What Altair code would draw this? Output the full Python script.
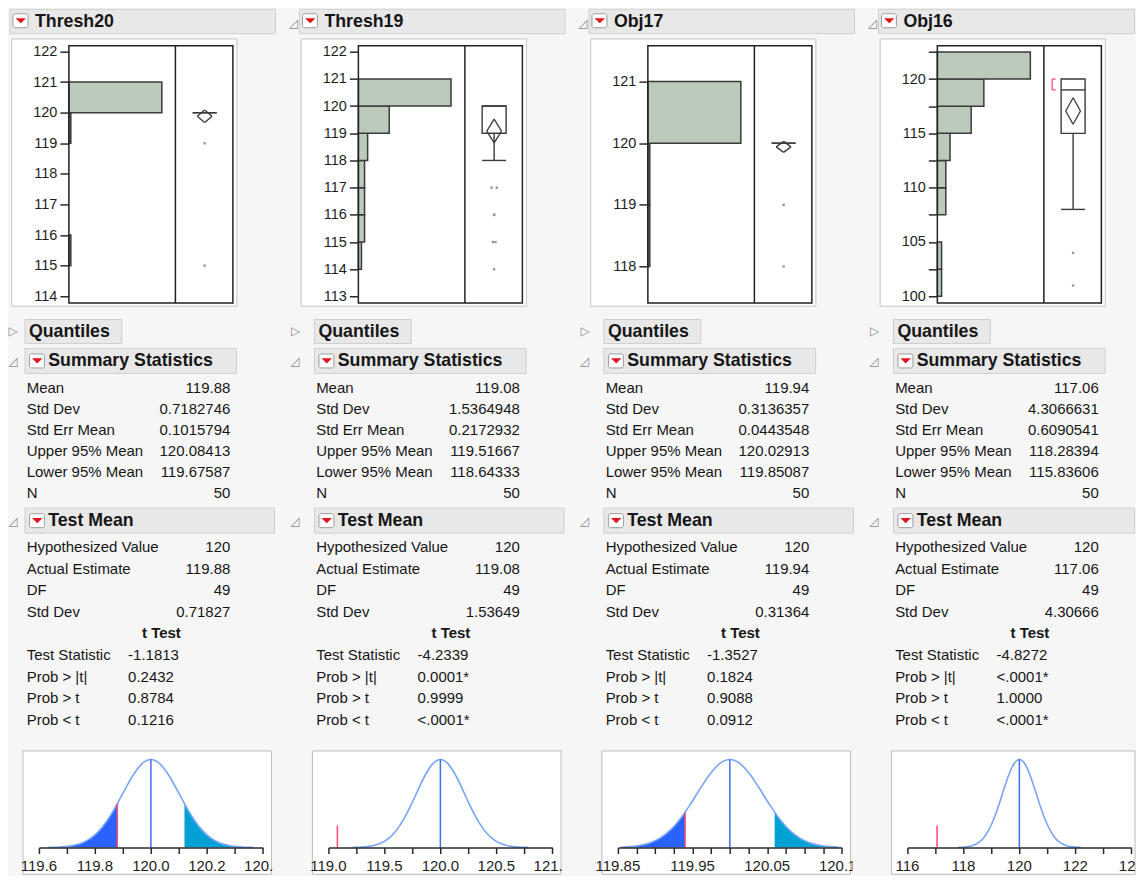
import json
import altair as alt
import pandas as pd

FONT = "Liberation Sans"
BG = "#f6f6f6"
TXT = "#161616"

names = ["Thresh20", "Thresh19", "Obj17", "Obj16"]

# ---------- histogram data (bin lower edge, upper edge, count) ----------
hist_lo = [[115, 119, 120],
           [114, 115, 116, 117, 118, 119, 120],
           [118, 119, 120],
           [100, 102.5, 105, 107.5, 110, 112.5, 115, 117.5, 120]]
hist_hi = [[116, 120, 121],
           [115, 116, 117, 118, 119, 120, 121],
           [119, 120, 121],
           [102.5, 105, 107.5, 110, 112.5, 115, 117.5, 120, 122.5]]
hist_count = [[1, 1, 48],
              [1, 2, 2, 2, 3, 10, 30],
              [1, 1, 48],
              [1, 1, 0, 2, 2, 3, 8, 11, 22]]
hist_xmax = [55, 34.5, 55, 25.2]
hist_ydom = [[113.78, 122.19], [112.76, 122.22], [117.41, 121.58], [99.39, 123.07]]
hist_ticks = [[114, 115, 116, 117, 118, 119, 120, 121, 122],
              [113, 114, 115, 116, 117, 118, 119, 120, 121, 122],
              [118, 119, 120, 121],
              [100, 102.5, 105, 107.5, 110, 112.5, 115, 117.5, 120, 122.5]]
hist_labels = [["114", "115", "116", "117", "118", "119", "120", "121", "122"],
               ["113", "114", "115", "116", "117", "118", "119", "120", "121", "122"],
               ["118", "119", "120", "121"],
               ["100", "", "105", "", "110", "", "115", "", "120", ""]]

# ---------- box plot data ----------
q1 = [120, 119, 120, 115]
med = [120, 120, 120, 119]
q3 = [120, 120, 120, 120]
wlo = [120, 118, 120, 108]
whi = [120, 120, 120, 120]
outliers = [[119, 115], [117, 117, 116, 116, 115, 115, 114], [119, 118], [104, 101]]
short_half = [None, None, None, [119, 120]]

# ---------- summary statistics ----------
sum_labels = ["Mean", "Std Dev", "Std Err Mean", "Upper 95% Mean", "Lower 95% Mean", "N"]
sum_values = [["119.88", "0.7182746", "0.1015794", "120.08413", "119.67587", "50"],
              ["119.08", "1.5364948", "0.2172932", "119.51667", "118.64333", "50"],
              ["119.94", "0.3136357", "0.0443548", "120.02913", "119.85087", "50"],
              ["117.06", "4.3066631", "0.6090541", "118.28394", "115.83606", "50"]]
means = [119.88, 119.08, 119.94, 117.06]
std_err = [0.1015794, 0.2172932, 0.0443548, 0.6090541]
upper95 = [120.08413, 119.51667, 120.02913, 118.28394]
lower95 = [119.67587, 118.64333, 119.85087, 115.83606]

# ---------- test mean ----------
tm_labels = ["Hypothesized Value", "Actual Estimate", "DF", "Std Dev"]
tm_values = [["120", "119.88", "49", "0.71827"],
             ["120", "119.08", "49", "1.53649"],
             ["120", "119.94", "49", "0.31364"],
             ["120", "117.06", "49", "4.30666"]]
tt_labels = ["Test Statistic", "Prob > |t|", "Prob > t", "Prob < t"]
tt_values = [["-1.1813", "0.2432", "0.8784", "0.1216"],
             ["-4.2339", "0.0001*", "0.9999", "<.0001*"],
             ["-1.3527", "0.1824", "0.9088", "0.0912"],
             ["-4.8272", "<.0001*", "1.0000", "<.0001*"]]
hyp_value = 120
t_stat = [-1.1813, -4.2339, -1.3527, -4.8272]

# ---------- t distribution plots ----------
curve_z = [-3.6, -3.3, -3.0, -2.7, -2.4, -2.1, -1.8, -1.5, -1.2, -0.9, -0.6, -0.3, 0.0,
           0.3, 0.6, 0.9, 1.2, 1.5, 1.8, 2.1, 2.4, 2.7, 3.0, 3.3, 3.6]
curve_h = [0.002, 0.004, 0.011, 0.026, 0.056, 0.110, 0.198, 0.325, 0.487, 0.667, 0.835, 0.956, 1.0,
           0.956, 0.835, 0.667, 0.487, 0.325, 0.198, 0.110, 0.056, 0.026, 0.011, 0.004, 0.002]
curve_peak = 1.0
red_h = [0.50, 0.25, 0.40, 0.25]
t_dom = [[119.6, 120.4], [119.0, 121.0], [119.85, 120.15], [116, 124]]
t_ticks = [[119.6, 119.7, 119.8, 119.9, 120.0, 120.1, 120.2, 120.3, 120.4],
           [119.0, 119.25, 119.5, 119.75, 120.0, 120.25, 120.5, 120.75, 121.0],
           [119.85, 119.875, 119.9, 119.925, 119.95, 119.975, 120.0, 120.025, 120.05,
            120.075, 120.1, 120.125, 120.15],
           [116, 117, 118, 119, 120, 121, 122, 123, 124]]
t_label_vals = [[119.6, 119.8, 120.0, 120.2, 120.4],
                [119.0, 119.5, 120.0, 120.5, 121.0],
                [119.85, 119.95, 120.05, 120.15],
                [116, 118, 120, 122, 124]]
t_labels = [["119.6", "119.8", "120.0", "120.2", "120.4"],
            ["119.0", "119.5", "120.0", "120.5", "121.0"],
            ["119.85", "119.95", "120.05", "120.15"],
            ["116", "118", "120", "122", "124"]]

# ---------- layout / style (pixels) ----------
COL_W = [289.33, 289.33, 289.33, 260.0]
ONE = pd.DataFrame({"k": [0]})
BOX_C = 197.0
BOX_HW = 12.0
DIA_HW = 7.4
# horizontal jitter (px) of each drawn outlier point, same order as `outliers`
OUTLIER_JITTER = [[0, 0], [-2.6, 2.6, 0, 0, -1.3, 1.3, 0], [0, 0], [0, 0]]


def lab_expr(vals, labels):
    v = json.dumps(vals)
    l = json.dumps(labels)
    key = "round(datum.value*1000)/1000"
    return f"indexof({v}, {key}) >= 0 ? {l}[indexof({v}, {key})] : ''"


def box_rect(x1, x2, y1, y2, fill="#e8e8e8", stroke="#cfcfcf", sw=1, radius=0):
    return alt.Chart(ONE).mark_rect(fill=fill, stroke=stroke, strokeWidth=sw, cornerRadius=radius).encode(
        x=alt.value(x1), x2=alt.value(x2), y=alt.value(y1), y2=alt.value(y2))


def label(text, x, y, size=17.8, bold=True, align="left", color=TXT):
    return alt.Chart(ONE).mark_text(text=text, align=align, baseline="middle", font=FONT,
                                    fontSize=size, fontWeight="bold" if bold else "normal",
                                    color=color).encode(x=alt.value(x), y=alt.value(y))


def red_icon(cx, cy):
    return [
        box_rect(cx - 7.5, cx + 7.5, cy - 7, cy + 7, fill="#ffffff", stroke="#9c9c9c", sw=1, radius=2),
        alt.Chart(ONE).mark_point(shape="M-1,-0.5L1,-0.5L0,0.5Z", filled=True, fill="#e3141e",
                                  opacity=1, strokeWidth=0, size=110).encode(
            x=alt.value(cx + 0.3), y=alt.value(cy)),
    ]


def glyph(ch, x, y):
    return alt.Chart(ONE).mark_text(text=ch, align="left", baseline="middle", font="DejaVu Sans",
                                    fontSize=12, color="#8c8c8c").encode(x=alt.value(x), y=alt.value(y))


def header_piece(c, W):
    right = min(268, W - 1.5)
    layers = [box_rect(2, right, 0.5, 25)]
    layers += red_icon(12.5, 12)
    layers.append(label(names[c], 27, 13))
    if c > 0:
        layers.append(glyph("◿", -8.5, 14))
    return alt.layer(*layers).properties(width=W, height=37)


def hist_piece(c, W):
    H = 257.7
    ysc = alt.Scale(domain=hist_ydom[c], nice=False, zero=False)
    yax = alt.Axis(values=hist_ticks[c], labelExpr=lab_expr(hist_ticks[c], hist_labels[c]),
                   title=None, domain=False, grid=False, tickSize=9, tickWidth=1.5,
                   tickColor="#2a2a2a", labelFont=FONT, labelFontSize=14.5, labelColor="#1e1e1e",
                   labelPadding=3, labelOverlap=False, labelFlush=False, offset=-61, zindex=1)

    def Y(f):
        return alt.Y(f"{f}:Q", scale=ysc, axis=yax)

    LINE = "#3a3a3a"
    layers = [box_rect(3.7, 229.3, -6.7, 261, fill="#ffffff", stroke="#c4c4c4", sw=1)]

    hdf = pd.DataFrame({"lo": hist_lo[c], "hi": hist_hi[c], "n": hist_count[c]})
    hdf = hdf[hdf.n > 0]
    layers.append(alt.Chart(hdf).mark_rect(fill="#bccabc", stroke=LINE, strokeWidth=1.5).encode(
        x=alt.X("n:Q", scale=alt.Scale(domain=[0, hist_xmax[c]], range=[61, 167.7], nice=False),
                axis=None),
        x2=alt.value(61), y=Y("lo"), y2="hi:Q"))

    bdf = pd.DataFrame({"q1": [q1[c]], "med": [med[c]], "q3": [q3[c]], "wlo": [wlo[c]],
                        "whi": [whi[c]], "mean": [means[c]], "lo95": [lower95[c]],
                        "hi95": [upper95[c]]})
    bb = alt.Chart(bdf)
    L, R = BOX_C - BOX_HW, BOX_C + BOX_HW
    layers.append(bb.mark_rect(fill="#ffffff", stroke=LINE, strokeWidth=1.4).encode(
        x=alt.value(L), x2=alt.value(R), y=Y("q1"), y2="q3:Q"))
    layers.append(bb.mark_rule(color=LINE, strokeWidth=1.4).encode(
        x=alt.value(L), x2=alt.value(R), y=Y("med")))
    if wlo[c] < q1[c]:
        layers.append(bb.mark_rule(color=LINE, strokeWidth=1.4).encode(
            x=alt.value(BOX_C), y=Y("wlo"), y2="q1:Q"))
        layers.append(bb.mark_rule(color=LINE, strokeWidth=1.4).encode(
            x=alt.value(L), x2=alt.value(R), y=Y("wlo")))
    if whi[c] > q3[c]:
        layers.append(bb.mark_rule(color=LINE, strokeWidth=1.4).encode(
            x=alt.value(BOX_C), y=Y("q3"), y2="whi:Q"))
        layers.append(bb.mark_rule(color=LINE, strokeWidth=1.4).encode(
            x=alt.value(L), x2=alt.value(R), y=Y("whi")))
    for (xa, fa, xb, fb) in [(BOX_C - DIA_HW, "mean", BOX_C, "hi95"),
                             (BOX_C, "hi95", BOX_C + DIA_HW, "mean"),
                             (BOX_C + DIA_HW, "mean", BOX_C, "lo95"),
                             (BOX_C, "lo95", BOX_C - DIA_HW, "mean")]:
        layers.append(bb.mark_rule(color=LINE, strokeWidth=1.3).encode(
            x=alt.value(xa), x2=alt.value(xb), y=Y(fa), y2=f"{fb}:Q"))

    by_off = {}
    for v, off in zip(outliers[c], OUTLIER_JITTER[c]):
        by_off.setdefault(off, []).append(v)
    for off, vs in by_off.items():
        odf = pd.DataFrame({"value": vs})
        layers.append(alt.Chart(odf).mark_square(size=6, color="#9a9a9a", opacity=1).encode(
            x=alt.value(BOX_C + off), y=Y("value")))

    if short_half[c] is not None:
        sdf = pd.DataFrame({"a": [short_half[c][0]], "b": [short_half[c][1]]})
        sb = alt.Chart(sdf)
        RED = "#ff4d6d"
        bx = BOX_C - 1.75 * BOX_HW
        layers.append(sb.mark_rule(color=RED, strokeWidth=1.3).encode(
            x=alt.value(bx), y=Y("a"), y2="b:Q"))
        layers.append(sb.mark_rule(color=RED, strokeWidth=1.3).encode(
            x=alt.value(bx), x2=alt.value(bx + 3.5), y=Y("a")))
        layers.append(sb.mark_rule(color=RED, strokeWidth=1.3).encode(
            x=alt.value(bx), x2=alt.value(bx + 3.5), y=Y("b")))

    layers.append(alt.Chart(ONE).mark_rect(fill="#ffffff", fillOpacity=0, stroke="#222222",
                                           strokeWidth=1.5).encode(
        x=alt.value(61), x2=alt.value(225.3), y=alt.value(0), y2=alt.value(H)))
    layers.append(alt.Chart(ONE).mark_rule(color="#222222", strokeWidth=1.5).encode(
        x=alt.value(167.7), y=alt.value(0), y2=alt.value(H)))

    return alt.layer(*layers).properties(width=W, height=H)


def text_piece(c, W):
    H = 447.3
    tri_x = 0.5 if c == 0 else -6.5
    tri2_x = 0.5 if c == 0 else -7
    layers = []
    layers += [box_rect(17, 114, 16.3, 40.3), label("Quantiles", 21, 28.8),
               glyph("▷", tri_x, 28.3)]
    layers += [box_rect(17, 229, 45.3, 70.3)] + red_icon(29, 57.8)
    layers += [label("Summary Statistics", 40.3, 58.3), glyph("◿", tri2_x, 57.8)]
    sdf = pd.DataFrame({"i": list(range(len(sum_labels))), "label": sum_labels, "val": sum_values[c]})
    ys1 = alt.Scale(domain=[0, 5], range=[85, 190.3], nice=False, zero=False)
    layers.append(alt.Chart(sdf).mark_text(align="left", baseline="middle", font=FONT, fontSize=15,
                                           color=TXT).encode(
        x=alt.value(18.7), y=alt.Y("i:Q", scale=ys1, axis=None), text="label:N"))
    layers.append(alt.Chart(sdf).mark_text(align="right", baseline="middle", font=FONT, fontSize=15,
                                           color=TXT).encode(
        x=alt.value(222.7), y=alt.Y("i:Q", scale=ys1, axis=None), text="val:N"))
    layers += [box_rect(17, min(267, W - 1.5), 205.3, 230.3)] + red_icon(29, 217.8)
    layers += [label("Test Mean", 40.3, 218.3), glyph("◿", tri2_x, 217.8)]
    ys2 = alt.Scale(domain=[0, 8], range=[244.3, 417.3], nice=False, zero=False)
    mdf = pd.DataFrame({"i": [0, 1, 2, 3], "label": tm_labels, "val": tm_values[c]})
    layers.append(alt.Chart(mdf).mark_text(align="left", baseline="middle", font=FONT, fontSize=15,
                                           color=TXT).encode(
        x=alt.value(18.7), y=alt.Y("i:Q", scale=ys2, axis=None), text="label:N"))
    layers.append(alt.Chart(mdf).mark_text(align="right", baseline="middle", font=FONT, fontSize=15,
                                           color=TXT).encode(
        x=alt.value(222.7), y=alt.Y("i:Q", scale=ys2, axis=None), text="val:N"))
    hdf = pd.DataFrame({"i": [4], "label": ["t Test"]})
    layers.append(alt.Chart(hdf).mark_text(align="center", baseline="middle", font=FONT, fontSize=15,
                                           fontWeight="bold", color=TXT).encode(
        x=alt.value(153.7), y=alt.Y("i:Q", scale=ys2, axis=None), text="label:N"))
    tdf = pd.DataFrame({"i": [5, 6, 7, 8], "label": tt_labels, "val": tt_values[c]})
    layers.append(alt.Chart(tdf).mark_text(align="left", baseline="middle", font=FONT, fontSize=15,
                                           color=TXT).encode(
        x=alt.value(18.7), y=alt.Y("i:Q", scale=ys2, axis=None), text="label:N"))
    layers.append(alt.Chart(tdf).mark_text(align="left", baseline="middle", font=FONT, fontSize=15,
                                           color=TXT).encode(
        x=alt.value(120.3), y=alt.Y("i:Q", scale=ys2, axis=None), text="val:N"))
    return alt.layer(*layers).resolve_scale(y="independent").properties(width=W, height=H)


def tplot_piece(c, W):
    H = 125
    PW = min(266, W)
    dom = t_dom[c]
    xs = alt.Scale(domain=dom, range=[31, 255.3], nice=False, zero=False)
    xax = alt.Axis(values=t_ticks[c], labels=False, title=None, grid=False, domainColor="#2a2a2a",
                   domainWidth=1.5, tickColor="#2a2a2a", tickWidth=1.5, tickSize=6,
                   offset=-(H - 97.3), zindex=1)
    ys = alt.Scale(domain=[0, 1], range=[97.3, 9], nice=False, zero=False)

    def X(f):
        return alt.X(f"{f}:Q", scale=xs, axis=xax)

    def Yq(f):
        return alt.Y(f"{f}:Q", scale=ys, axis=None)

    se = std_err[c]
    cdf = pd.DataFrame({"z": curve_z, "h": curve_h})
    cdf["x"] = hyp_value + cdf.z * se
    cdf["base"] = 0.0
    cdf = cdf[(cdf.x >= dom[0]) & (cdf.x <= dom[1])]
    ta = abs(t_stat[c])

    layers = [box_rect(15, min(264, W - 1), 0.5, H - 1, fill="#ffffff", stroke="#bdbdbd", sw=1)]
    lpts = cdf[cdf.z <= -ta][["x", "h", "base"]]
    if len(lpts):
        left = pd.concat([lpts, pd.DataFrame({"x": [hyp_value - ta * se], "h": [red_h[c]], "base": [0.0]})])
        layers.append(alt.Chart(left).mark_area(color="#2962ff", opacity=1, interpolate="monotone").encode(
            x=X("x"), y=Yq("h"), y2="base:Q"))
    rpts = cdf[cdf.z >= ta][["x", "h", "base"]]
    if len(rpts):
        right = pd.concat([pd.DataFrame({"x": [hyp_value + ta * se], "h": [red_h[c]], "base": [0.0]}), rpts])
        layers.append(alt.Chart(right).mark_area(color="#00a2d6", opacity=1, interpolate="monotone").encode(
            x=X("x"), y=Yq("h"), y2="base:Q"))
    layers.append(alt.Chart(cdf).mark_line(color="#79a5f8", strokeWidth=1.6, interpolate="monotone").encode(
        x=X("x"), y=Yq("h")))
    rdf = pd.DataFrame({"hyp": [hyp_value], "mean": [means[c]], "redh": [red_h[c]],
                        "base": [0.0], "peak": [curve_peak]})
    layers.append(alt.Chart(rdf).mark_rule(color="#3d6ff2", strokeWidth=1.5).encode(
        x=X("hyp"), y=Yq("base"), y2="peak:Q"))
    layers.append(alt.Chart(rdf).mark_rule(color="#ff4a6a", strokeWidth=1.5).encode(
        x=X("mean"), y=Yq("base"), y2="redh:Q"))
    ldf = pd.DataFrame({"v": t_label_vals[c], "lab": t_labels[c]})
    layers.append(alt.Chart(ldf).mark_text(clip=True, align="center", baseline="middle", font=FONT,
                                           fontSize=15, color="#1e1e1e").encode(
        x=X("v"), y=alt.value(115.5), text="lab:N"))
    return alt.layer(*layers).properties(width=PW, height=H)


pieces = []
for make in (header_piece, hist_piece, text_piece, tplot_piece):
    for c in range(4):
        pieces.append(make(c, COL_W[c]))

chart = alt.concat(*pieces, columns=4, spacing=0, bounds="flush").properties(
    padding={"left": 0, "right": 0, "top": 0, "bottom": 0}, background=BG
).configure_view(stroke=None)

chart.save("out.html", embed_options={"renderer": "svg", "actions": False})
